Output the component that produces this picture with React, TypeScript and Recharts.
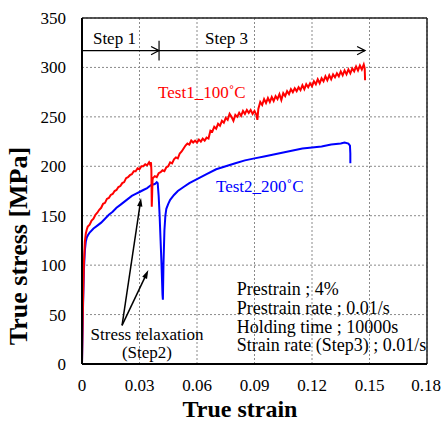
import {
  LineChart,
  Line,
  XAxis,
  YAxis,
  CartesianGrid,
  ReferenceLine,
  ReferenceDot,
} from "recharts";

const xTicks = [0, 0.03, 0.06, 0.09, 0.12, 0.15, 0.18];
const yTicks = [0, 50, 100, 150, 200, 250, 300, 350];

// Test1_100°C : [true strain, true stress MPa]
const test1: [number, number][] = [
  [0, 0], [0.0005, 60], [0.001, 102], [0.0015, 124], [0.002, 132], [0.0025, 136],
  [0.003, 139], [0.004, 141], [0.005, 145], [0.006, 147], [0.007, 151], [0.008, 153],
  [0.009, 156], [0.01, 158], [0.011, 162], [0.012, 163], [0.013, 167], [0.014, 168],
  [0.015, 171], [0.016, 172], [0.017, 175], [0.018, 176], [0.019, 179], [0.02, 180],
  [0.021, 183], [0.022, 184], [0.023, 188], [0.024, 189], [0.025, 191], [0.026, 192],
  [0.027, 195], [0.028, 195], [0.029, 198], [0.03, 197], [0.031, 200], [0.032, 200],
  [0.033, 202], [0.034, 201], [0.035, 204], [0.0355, 202], [0.036, 204], [0.0362, 196],
  [0.0364, 159], [0.0366, 172], [0.0368, 186], [0.037, 188], [0.038, 190], [0.039, 189],
  [0.04, 193], [0.041, 194], [0.042, 196], [0.043, 195], [0.044, 199], [0.045, 200],
  [0.046, 204], [0.047, 203], [0.048, 207], [0.049, 209], [0.05, 208], [0.051, 213],
  [0.052, 215], [0.053, 218], [0.054, 221], [0.055, 223], [0.056, 222], [0.057, 226],
  [0.058, 224], [0.059, 226], [0.06, 224], [0.061, 227], [0.062, 225], [0.063, 228],
  [0.064, 226], [0.065, 229], [0.066, 228], [0.067, 236], [0.068, 235], [0.069, 240],
  [0.07, 238], [0.071, 243], [0.072, 241], [0.073, 246], [0.074, 244], [0.075, 249],
  [0.076, 247], [0.077, 253], [0.078, 250], [0.079, 246], [0.08, 252], [0.081, 250],
  [0.082, 254], [0.083, 251], [0.084, 256], [0.085, 253], [0.086, 257], [0.087, 254],
  [0.088, 257], [0.089, 253], [0.09, 256], [0.091, 252], [0.0915, 247], [0.092, 258],
  [0.093, 265], [0.094, 262], [0.095, 268], [0.096, 264], [0.097, 269], [0.098, 265],
  [0.099, 270], [0.1, 266], [0.101, 271], [0.102, 268], [0.103, 273], [0.104, 267],
  [0.105, 274], [0.106, 271], [0.107, 276], [0.108, 273], [0.109, 278], [0.11, 275],
  [0.111, 279], [0.112, 276], [0.113, 280], [0.114, 277], [0.115, 282], [0.116, 278],
  [0.117, 283], [0.118, 280], [0.119, 284], [0.12, 281], [0.121, 286], [0.122, 283],
  [0.123, 288], [0.124, 284], [0.125, 289], [0.126, 286], [0.127, 291], [0.128, 287],
  [0.129, 292], [0.13, 288], [0.131, 293], [0.132, 290], [0.133, 294], [0.134, 291],
  [0.135, 296], [0.136, 292], [0.137, 297], [0.138, 293], [0.139, 298], [0.14, 294],
  [0.141, 299], [0.142, 296], [0.143, 301], [0.144, 297], [0.145, 302], [0.146, 298],
  [0.147, 303], [0.1475, 299], [0.1477, 287],
];

// Test2_200°C
const test2: [number, number][] = [
  [0, 0], [0.0005, 55], [0.001, 95], [0.0015, 115], [0.002, 124], [0.0025, 128],
  [0.003, 130], [0.004, 133], [0.006, 137], [0.008, 140], [0.01, 143], [0.012, 147],
  [0.014, 151], [0.016, 154], [0.018, 158], [0.02, 161], [0.022, 164], [0.024, 167],
  [0.026, 170], [0.028, 172], [0.03, 174], [0.032, 176], [0.034, 178], [0.036, 181],
  [0.038, 182], [0.039, 184], [0.0395, 183], [0.04, 170], [0.0405, 150], [0.041, 125],
  [0.0415, 100], [0.042, 70], [0.0422, 65], [0.0425, 100], [0.043, 135], [0.0435, 150],
  [0.044, 157], [0.045, 162], [0.046, 166], [0.048, 171], [0.05, 175], [0.053, 179],
  [0.056, 183], [0.06, 187], [0.065, 192], [0.07, 197], [0.075, 200], [0.08, 203],
  [0.085, 206], [0.09, 208], [0.095, 210], [0.1, 212], [0.105, 214], [0.11, 216],
  [0.115, 218], [0.12, 219], [0.125, 220], [0.13, 222], [0.135, 223], [0.137, 224],
  [0.139, 223], [0.1398, 221], [0.14, 213], [0.14, 203],
];

const toRows = (pts: [number, number][]) => pts.map(([strain, stress]) => ({ strain, stress }));

const infoLines = [
  "Prestrain ; 4%",
  "Prestrain rate ; 0.01/s",
  "Holding time ; 10000s",
  "Strain rate (Step3) ; 0.01/s",
];

const SERIF = "'Liberation Serif', 'Times New Roman', serif";

function OpenArrow(props: any) {
  const { x1, y1, x2, y2 } = props;
  const a = Math.atan2(y2 - y1, x2 - x1);
  const len = 9;
  const w = 0.48;
  const p1 = `${x2 - len * Math.cos(a - w)},${y2 - len * Math.sin(a - w)}`;
  const p2 = `${x2 - len * Math.cos(a + w)},${y2 - len * Math.sin(a + w)}`;
  return (
    <g>
      <line x1={x1} y1={y1} x2={x2} y2={y2} stroke="#000" strokeWidth={1.2} />
      <polyline points={`${p1} ${x2},${y2} ${p2}`} fill="none" stroke="#000" strokeWidth={1.2} />
    </g>
  );
}

function SolidArrow(props: any) {
  const { x1, y1, x2, y2 } = props;
  const a = Math.atan2(y2 - y1, x2 - x1);
  const len = 9;
  const w = 0.3;
  const p1 = `${x2 - len * Math.cos(a - w)},${y2 - len * Math.sin(a - w)}`;
  const p2 = `${x2 - len * Math.cos(a + w)},${y2 - len * Math.sin(a + w)}`;
  return (
    <g>
      <line x1={x1} y1={y1} x2={x2 - 5 * Math.cos(a)} y2={y2 - 5 * Math.sin(a)} stroke="#000" strokeWidth={1.5} />
      <polygon points={`${p1} ${x2},${y2} ${p2}`} fill="#000" />
    </g>
  );
}

const textAt = (value: string, color: string, size: number, anchor: "start" | "middle" = "start") =>
  (p: any) => (
    <text x={p.cx} y={p.cy} fill={color} fontSize={size} fontFamily={SERIF} textAnchor={anchor}>
      {value}
    </text>
  );

export default function App() {
  return (
    <div
      style={{
        position: "absolute",
        left: 0,
        top: 0,
        width: 441,
        height: 423,
        background: "#fff",
        fontFamily: SERIF,
      }}
    >
      <LineChart width={441} height={423} margin={{ top: 18, right: 14, bottom: 0, left: 0 }}>
        <CartesianGrid stroke="#8a8a8a" strokeDasharray="2 2" horizontalValues={yTicks} verticalValues={xTicks} />
        <XAxis
          type="number"
          dataKey="strain"
          domain={[0, 0.18]}
          ticks={xTicks}
          allowDataOverflow
          height={59}
          tickLine={false}
          tickSize={0}
          tickMargin={15}
          axisLine={{ stroke: "#000", strokeWidth: 2 }}
          tick={{ fontSize: 17, fill: "#000", fontFamily: SERIF }}
          tickFormatter={(v: number) => (v === 0 ? "0" : v.toFixed(2))}
          label={{
            content: () => (
              <text x={240} y={417} textAnchor="middle" fontSize={24} fontWeight="bold" fontFamily={SERIF} fill="#000">
                True strain
              </text>
            ),
          }}
        />
        <YAxis
          type="number"
          domain={[0, 350]}
          ticks={yTicks}
          width={82}
          tickLine={false}
          tickSize={0}
          tickMargin={16}
          axisLine={{ stroke: "#000", strokeWidth: 2 }}
          tick={{ fontSize: 17, fill: "#000", fontFamily: SERIF }}
          label={{
            content: () => (
              <text
                x={27}
                y={246}
                transform="rotate(-90 27 246)"
                textAnchor="middle"
                fontSize={26}
                fontWeight="bold"
                fontFamily={SERIF}
                fill="#000"
              >
                True stress [MPa]
              </text>
            ),
          }}
        />
        <ReferenceLine y={350} stroke="#222" strokeWidth={1.5} />
        <ReferenceLine x={0.18} stroke="#222" strokeWidth={1.5} />

        <Line data={toRows(test2)} dataKey="stress" stroke="#0000ff" strokeWidth={2} dot={false} isAnimationActive={false} />
        <Line data={toRows(test1)} dataKey="stress" stroke="#ff0000" strokeWidth={2} dot={false} isAnimationActive={false} />

        {/* Step arrows */}
        <ReferenceLine segment={[{ x: 0, y: 317 }, { x: 0.0402, y: 317 }]} shape={OpenArrow} />
        <ReferenceLine segment={[{ x: 0.0402, y: 317 }, { x: 0.1477, y: 317 }]} shape={OpenArrow} />
        <ReferenceLine segment={[{ x: 0.0402, y: 307 }, { x: 0.0402, y: 327 }]} stroke="#000" strokeWidth={1.2} />

        {/* relaxation arrows */}
        <ReferenceLine segment={[{ x: 0.0209, y: 39 }, { x: 0.0308, y: 168 }]} shape={SolidArrow} />
        <ReferenceLine segment={[{ x: 0.0209, y: 39 }, { x: 0.0346, y: 95 }]} shape={SolidArrow} />

        <ReferenceDot x={0.0057} y={323.5} r={0} shape={textAt("Step 1", "#000", 17)} />
        <ReferenceDot x={0.0642} y={323.5} r={0} shape={textAt("Step 3", "#000", 17)} />
        <ReferenceDot x={0.0397} y={269.5} r={0} shape={textAt("Test1_100˚C", "#ff0000", 17)} />
        <ReferenceDot x={0.0699} y={174} r={0} shape={textAt("Test2_200˚C", "#0000ff", 17)} />
        <ReferenceDot x={0.0339} y={24.3} r={0} shape={textAt("Stress relaxation", "#000", 17, "middle")} />
        <ReferenceDot x={0.0339} y={6.1} r={0} shape={textAt("(Step2)", "#000", 17, "middle")} />
        <ReferenceDot
          x={0.0807}
          y={69.8}
          r={0}
          shape={(p: any) => (
            <text x={p.cx} y={p.cy} fontSize={18} fontFamily={SERIF} fill="#000">
              {infoLines.map((s, i) => (
                <tspan key={s} x={p.cx} dy={i === 0 ? 0 : 18.8}>
                  {s}
                </tspan>
              ))}
            </text>
          )}
        />
      </LineChart>
    </div>
  );
}
